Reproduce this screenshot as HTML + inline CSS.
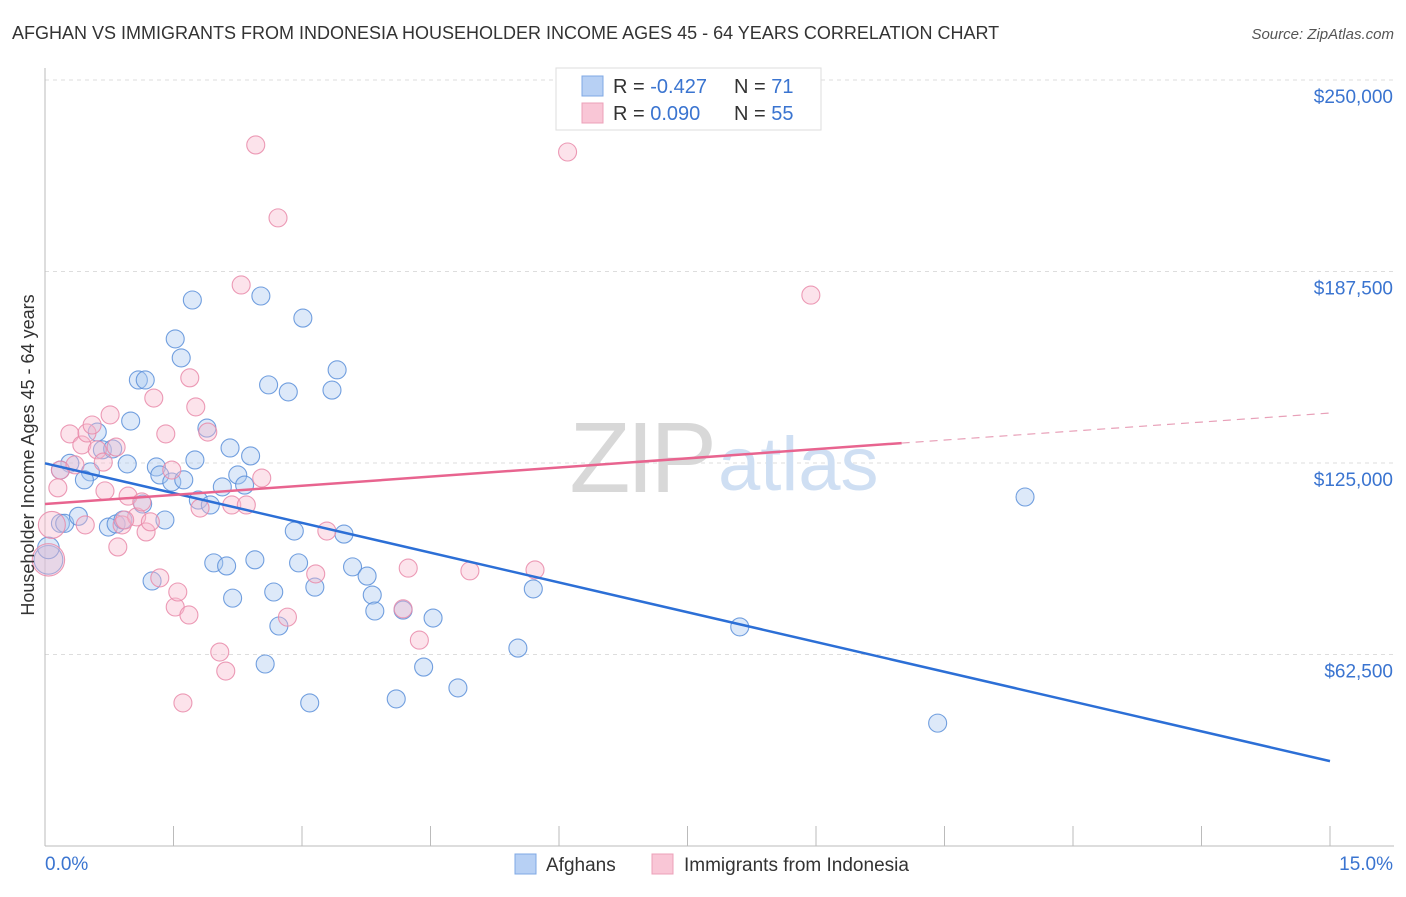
<!DOCTYPE html>
<html><head><meta charset="utf-8">
<style>
body{margin:0;background:#fff;font-family:"Liberation Sans",sans-serif;}
svg text{font-family:"Liberation Sans",sans-serif;}
</style></head>
<body>
<svg id="chart" width="1406" height="892" xmlns="http://www.w3.org/2000/svg">
<text x="12" y="39" font-size="18" fill="#333">AFGHAN VS IMMIGRANTS FROM INDONESIA HOUSEHOLDER INCOME AGES 45 - 64 YEARS CORRELATION CHART</text>
<text x="1394" y="39" font-size="15" fill="#555" text-anchor="end" font-style="italic">Source: ZipAtlas.com</text>
<g id="grid"></g>
<g>
<text x="713" y="492" font-size="100" fill="#d8d8d8" text-anchor="end" font-family="Liberation Serif" letter-spacing="-4">ZIP</text>
<text x="718" y="490" font-size="76" fill="#cfdff3">atlas</text>
</g>
<g id="axes"></g>
<g id="pts"></g>
<g id="trends"></g>
<text transform="translate(34,455) rotate(-90)" font-size="18" fill="#333" text-anchor="middle">Householder Income Ages 45 - 64 years</text>
<g>
<rect x="556" y="68" width="265" height="62" fill="#fff" stroke="#ddd"/>
<rect x="582" y="76" width="21" height="20" fill="#b7d0f4" stroke="#7fa8e4"/>
<rect x="582" y="103" width="21" height="20" fill="#f9c6d6" stroke="#eca0b8"/>
<text x="613" y="93" font-size="20" fill="#333">R = <tspan fill="#3a74d0">-0.427</tspan></text>
<text x="734" y="93" font-size="20" fill="#333">N = <tspan fill="#3a74d0"> 71</tspan></text>
<text x="613" y="120" font-size="20" fill="#333">R = <tspan fill="#3a74d0"> 0.090</tspan></text>
<text x="734" y="120" font-size="20" fill="#333">N = <tspan fill="#3a74d0">55</tspan></text>
</g>
<g>
<rect x="515" y="854" width="21" height="20" fill="#b7d0f4" stroke="#7fa8e4"/>
<text x="546" y="871" font-size="19" fill="#333">Afghans</text>
<rect x="652" y="854" width="21" height="20" fill="#f9c6d6" stroke="#eca0b8"/>
<text x="684" y="871" font-size="19" fill="#333">Immigrants from Indonesia</text>
</g>
</svg>
<script>
const yTicks=[62500,125000,187500,250000];
const yTickLabels=["$62,500","$125,000","$187,500","$250,000"];
const xTickLabels=["0.0%","15.0%"];
const blueX=[0.04,0.04,0.18,0.23,0.39,0.29,0.53,0.46,0.61,0.67,0.79,0.74,0.83,0.91,0.96,1.00,1.09,1.17,1.14,1.25,1.30,1.34,1.40,1.48,1.52,1.59,1.62,1.72,1.75,1.79,1.89,1.93,1.97,2.07,2.12,2.16,2.19,2.25,2.33,2.40,2.45,2.52,2.57,2.61,2.67,2.73,2.84,2.91,2.96,3.01,3.09,3.15,3.35,3.41,3.49,3.59,3.76,3.82,3.85,4.10,4.18,4.42,4.53,4.82,5.52,5.70,8.11,10.42,11.44,0.18];
const blueY=[93.4,97.3,105.3,105.3,107.6,124.9,122.1,119.5,135.1,129.3,129.6,104.1,105.1,106.4,124.7,138.7,152.1,152.1,111.6,86.5,123.7,121.1,106.4,118.8,165.5,159.3,119.5,178.2,126.0,112.9,136.4,111.3,92.4,117.2,91.4,129.9,80.9,121.1,117.8,127.3,93.4,179.5,59.4,150.5,82.9,71.8,148.2,102.8,92.4,172.3,46.7,84.5,148.8,155.4,101.8,91.1,88.1,81.9,76.7,48.0,77.0,58.4,74.4,51.6,64.6,83.9,71.5,40.1,113.9,122.7];
const blueSize=[1.6,1.2];
const pinkX=[0.04,0.08,0.15,0.18,0.29,0.35,0.43,0.49,0.55,0.61,0.68,0.70,0.76,0.83,0.85,0.90,0.97,1.07,1.13,1.18,1.23,1.27,1.34,1.41,1.48,1.52,1.55,1.61,1.68,1.69,1.76,1.81,1.90,2.04,2.11,2.18,2.29,2.35,2.46,2.53,2.72,2.83,3.16,3.29,4.18,4.24,4.37,4.96,5.72,6.10,8.94,0.47,0.93];
const pinkY=[93.4,104.8,116.9,122.7,134.5,124.4,130.9,134.8,137.4,129.3,125.3,115.9,140.7,130.2,97.6,104.8,114.2,107.4,112.3,102.5,105.8,146.2,87.5,134.5,122.7,78.0,82.9,46.7,75.4,152.8,143.3,110.3,135.1,63.3,57.1,111.3,183.1,111.3,228.8,120.1,205.0,74.7,88.8,102.8,77.4,90.7,67.2,89.8,90.1,226.5,179.8,104.8,106.4];
const pinkSize=[1.8,1.5];
const blueTrend=[[0,124.9],[15,27.7]];
const pinkTrendSolid=[[0,111.6],[10,131.5]];
const pinkTrendDash=[[10,131.5],[15,141.3]];

const X0=45,X1=1330,Y0=846,PXK=191.5/62.5;
const sx=v=>X0+(v/15)*(X1-X0);
const sy=v=>Y0-v*PXK;
const NS="http://www.w3.org/2000/svg";
function mk(tag,attrs,parent){const e=document.createElementNS(NS,tag);for(const k in attrs)e.setAttribute(k,attrs[k]);parent.appendChild(e);return e;}
const grid=document.getElementById('grid'),axes=document.getElementById('axes'),pts=document.getElementById('pts'),tr=document.getElementById('trends');
yTicks.forEach((t,i)=>{
 const y=sy(t/1000);
 const l=mk('line',{x1:X0,x2:1394,y1:y,y2:y,stroke:'#ddd','stroke-dasharray':'4,4'},grid);
 
 
 const tx=mk('text',{x:1393,y:y+23,'font-size':19,fill:'#3a74d0','text-anchor':'end'},axes);
 tx.textContent=yTickLabels[i];
 
 
});
const ax=mk('line',{x1:X0,x2:X0,y1:68,y2:Y0,stroke:'#bbb'},axes);


const bx=mk('line',{x1:X0,x2:1394,y1:Y0,y2:Y0,stroke:'#bbb'},axes);


for(let i=0;i<=10;i++){
 const x=sx(i*1.5);
 const t=mk('line',{x1:x,x2:x,y1:Y0-20,y2:Y0,stroke:'#bbb'},axes);
 
 
}
[[0,X0+0,'start'],[1,1393,'end']].forEach(([i,x,a])=>{
 const t=mk('text',{x:x,y:870,'font-size':19,fill:'#3a74d0','text-anchor':a},axes);
 t.textContent=xTickLabels[i];
 
 
});
function drawPts(xs,ys,sizes,fill,stroke,name){
 xs.forEach((v,i)=>{
  const r=9*(sizes[i]||1);
  const c=mk('circle',{cx:sx(v),cy:sy(ys[i]),r:r,fill:fill,'fill-opacity':0.4,stroke:stroke,'stroke-width':1.1,'stroke-opacity':0.85},pts);
  
  
 });
}
drawPts(blueX,blueY,blueSize,'#a9c8f0','#5b8fd9','afghan-point');
drawPts(pinkX,pinkY,pinkSize,'#f7b9cc','#e98aa9','indonesia-point');
function line(p,stroke,w,dash,name){
 const a={x1:sx(p[0][0]),y1:sy(p[0][1]),x2:sx(p[1][0]),y2:sy(p[1][1]),stroke:stroke,'stroke-width':w};
 if(dash)a['stroke-dasharray']=dash;
 const l=mk('line',a,tr);
 
 
}
line(blueTrend,'#2c6fd6',2.5,null,'afghan-trend-line');
line(pinkTrendSolid,'#e8648f',2.5,null,'indonesia-trend-line');
line(pinkTrendDash,'#e8a0b8',1.2,'8,6','indonesia-trend-extension');
</script>
</body></html>
